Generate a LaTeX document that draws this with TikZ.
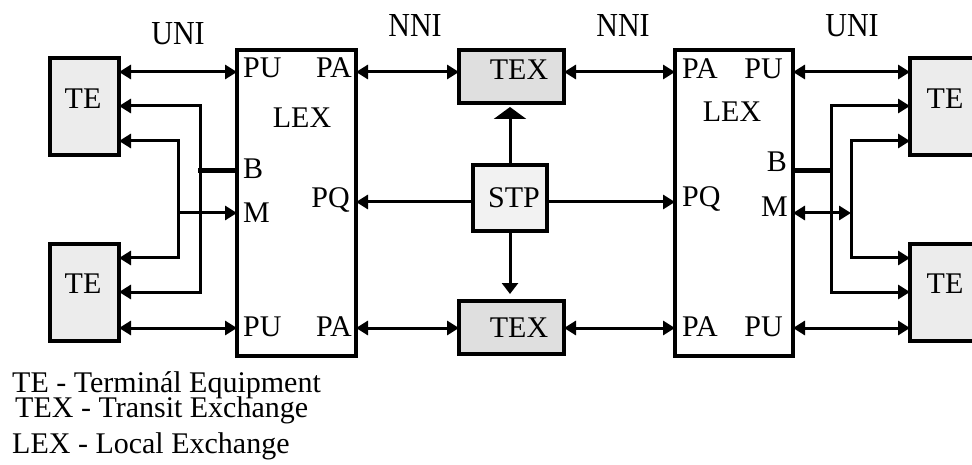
\documentclass[tikz,border=0pt]{standalone}
\usepackage{fontspec}
\setmainfont{Liberation Serif}
\usetikzlibrary{arrows.meta}
\begin{document}
\begin{tikzpicture}[x=1pt,y=-1pt,
  >={Triangle[length=12pt,width=14pt]},
  box/.style={draw, line width=4pt, inner sep=0pt, outer sep=0pt},
  tebox/.style={box, fill=gray!15, minimum width=69pt, minimum height=97pt},
  lexbox/.style={box, fill=white, minimum height=306pt},
  texbox/.style={box, fill=gray!25, minimum width=105pt, minimum height=53pt},
  stpbox/.style={box, fill=gray!10, minimum width=74pt, minimum height=66pt},
  lbl/.style={inner sep=0pt, font=\fontsize{30}{36}\selectfont},
  conn/.style={line width=3pt, line join=miter},
  bus/.style={line width=5pt},
  ifc/.style={lbl, anchor=base}]
\useasboundingbox (0,0) rectangle (972,465);
\clip (0,0) rectangle (972,465);

% rows of the connectors
\coordinate (r1) at (0,72);
\coordinate (r2) at (0,106);
\coordinate (r3) at (0,141);
\coordinate (r4) at (0,258);
\coordinate (r5) at (0,292);
\coordinate (r6) at (0,328);
\coordinate (pq) at (0,202);
\coordinate (bL) at (200,171);
\coordinate (mL) at (178,213);
\coordinate (bR) at (831,171);
\coordinate (mR) at (851,213);

% boxes
\node[tebox] (teL1) at (84.5,106.5) {};
\node[tebox] (teL2) at (84.5,292.5) {};
\node[tebox] (teR1) at (944.5,106.5) {};
\node[tebox] (teR2) at (944.5,292.5) {};
\node[lexbox, minimum width=119pt] (lexL) at (296.5,203) {};
\node[lexbox, minimum width=118pt] (lexR) at (734,203) {};
\node[texbox] (texT) at (511.5,76.5) {};
\node[texbox] (texB) at (511.5,327.5) {};
\node[stpbox] (stp) at (510,198) {};

% box captions
\node[lbl, anchor=base] (teL1t) at (83,109) {TE};
\node[lbl, anchor=base] (teL2t) at (83,293) {TE};
\node[lbl, anchor=base] (teR1t) at (945,109) {TE};
\node[lbl, anchor=base] (teR2t) at (945,293) {TE};
\node[lbl, anchor=base] (texTt) at (519,80) {TEX};
\node[lbl, anchor=base] (texBt) at (519,337) {TEX};
\node[lbl, anchor=base] (stpt) at (514,208) {STP};
\node[lbl, anchor=base] (lexLt) at (302,128) {LEX};
\node[lbl, anchor=base] (lexRt) at (732,122) {LEX};

% ports of the left exchange
\node[lbl, anchor=base west] (puL1) at (243,78) {PU};
\node[lbl, anchor=base east] (paL1) at (352,78) {PA};
\node[lbl, anchor=base west] (bLt) at (243,179) {B};
\node[lbl, anchor=base west] (mLt) at (243,223) {M};
\node[lbl, anchor=base east] (pqL) at (350,208) {PQ};
\node[lbl, anchor=base west] (puL2) at (243,336) {PU};
\node[lbl, anchor=base east] (paL2) at (352,336) {PA};

% ports of the right exchange
\node[lbl, anchor=base west] (paR1) at (682,79) {PA};
\node[lbl, anchor=base east] (puR1) at (783,79) {PU};
\node[lbl, anchor=base east] (bRt) at (787,172) {B};
\node[lbl, anchor=base west] (pqR) at (682,207) {PQ};
\node[lbl, anchor=base east] (mRt) at (788,217) {M};
\node[lbl, anchor=base west] (paR2) at (682,336) {PA};
\node[lbl, anchor=base east] (puR2) at (783,336) {PU};

% interface names
\node[ifc] (uniL) at (178,45) {\scalebox{1}[1.12]{UNI}};
\node[ifc] (nniL) at (415,37) {\scalebox{1}[1.12]{NNI}};
\node[ifc] (nniR) at (623,37) {\scalebox{1}[1.12]{NNI}};
\node[ifc] (uniR) at (852,37) {\scalebox{1}[1.12]{UNI}};

% left user side
\draw[conn,<->] (teL1.east |- r1) -- (lexL.west |- r1);
\draw[conn,<->] (teL2.east |- r6) -- (lexL.west |- r6);
\draw[conn,<->] (teL1.east |- r2) -- (bL |- r2) -- (bL |- r5) -- (teL2.east |- r5);
\draw[conn,<->] (teL1.east |- r3) -- (mL |- r3) -- (mL |- r4) -- (teL2.east |- r4);
\draw[bus] ([xshift=-2pt]bL) -- (lexL.west |- bL);
\draw[conn,->] (mL) -- (lexL.west |- mL);

% right user side
\draw[conn,<->] (lexR.east |- r1) -- (teR1.west |- r1);
\draw[conn,<->] (lexR.east |- r6) -- (teR2.west |- r6);
\draw[conn,<->] (teR1.west |- r2) -- (bR |- r2) -- (bR |- r5) -- (teR2.west |- r5);
\draw[conn,<->] (teR1.west |- r3) -- (mR |- r3) -- (mR |- r4) -- (teR2.west |- r4);
\draw[bus] (lexR.east |- bR) -- ([xshift=1pt]bR);
\draw[conn,<->] (lexR.east |- mR) -- (mR);

% network side
\draw[conn,<->] (lexL.east |- r1) -- (texT.west |- r1);
\draw[conn,<->] (texT.east |- r1) -- (lexR.west |- r1);
\draw[conn,<->] (lexL.east |- r6) -- (texB.west |- r6);
\draw[conn,<->] (texB.east |- r6) -- (lexR.west |- r6);
\draw[conn,->] (stp.west |- pq) -- (lexL.east |- pq);
\draw[conn,->] (stp.east |- pq) -- (lexR.west |- pq);
\draw[conn,-{Triangle[length=12pt,width=32pt]},shorten >=4pt] (stp.north) -- (stp.north |- texT.south);
\draw[conn,-{Triangle[length=11pt,width=16pt]},shorten >=7pt] (stp.south) -- (stp.south |- texB.north);

% legend
\node[lbl, anchor=base west] (leg1) at (12,392) {TE - Terminál Equipment};
\node[lbl, anchor=base west] (leg2) at (15,417) {TEX - Transit Exchange};
\node[lbl, anchor=base west] (leg3) at (12,453) {LEX - Local Exchange};
\end{tikzpicture}
\end{document}
